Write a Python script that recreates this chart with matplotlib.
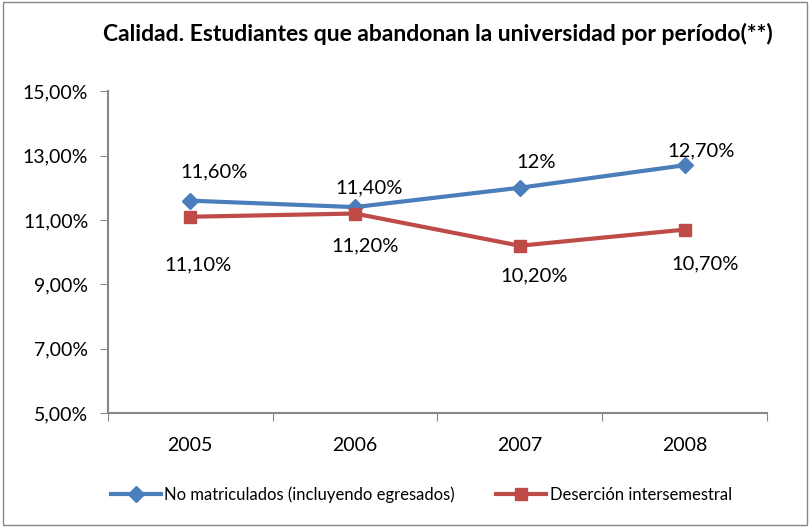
import matplotlib.pyplot as plt
from matplotlib.patches import Rectangle

plt.rcParams['font.family'] = ['Lato', 'DejaVu Sans']

# Data
years = ['2005', '2006', '2007', '2008']
no_matriculados = [11.6, 11.4, 12.0, 12.7]
desercion = [11.1, 11.2, 10.2, 10.7]
labels_nm = ['11,60%', '11,40%', '12%', '12,70%']
labels_des = ['11,10%', '11,20%', '10,20%', '10,70%']
y_ticks = [5, 7, 9, 11, 13, 15]

# label offsets in points (dx, dy)
off_nm = [(17, 21), (10, 14), (12, 18), (12, 10)]
off_des = [(6, -35), (7, -23), (10, -22), (15, -25)]

blue = '#4A7EBB'
red = '#BE4B48'
gray = '#868686'

fig = plt.figure(figsize=(8.1, 5.27), dpi=100)
ax = fig.add_axes([0.133, 0.216, 0.814, 0.611])

x = list(range(len(years)))
ax.plot(x, no_matriculados, color=blue, lw=3, marker='D', ms=8,
        label='No matriculados (incluyendo egresados)')
ax.plot(x, desercion, color=red, lw=3, marker='s', ms=9,
        label='Deserción intersemestral')

for i in x:
    ax.annotate(labels_nm[i], (i, no_matriculados[i]), xytext=off_nm[i],
                textcoords='offset points', ha='center', va='center', fontsize=14.5)
    ax.annotate(labels_des[i], (i, desercion[i]), xytext=off_des[i],
                textcoords='offset points', ha='center', va='center', fontsize=14.5)

ax.set_xlim(-0.5, 3.5)
ax.set_ylim(5, 15)
ax.set_yticks(y_ticks)
ax.set_yticklabels([f'{v:.2f}'.replace('.', ',') + '%' for v in y_ticks], fontsize=14)

# category ticks between groups, labels at centres
ax.set_xticks([-0.5, 0.5, 1.5, 2.5, 3.5])
ax.set_xticklabels([])
ax.set_xticks(x, minor=True)
ax.set_xticklabels(years, minor=True, fontsize=14)
ax.tick_params(axis='x', which='minor', length=0, pad=17)
ax.tick_params(axis='x', which='major', length=6, color=gray, direction='out')
ax.tick_params(axis='y', length=6, color=gray, pad=8)

for s in ['top', 'right']:
    ax.spines[s].set_visible(False)
for s in ['left', 'bottom']:
    ax.spines[s].set_color(gray)
    ax.spines[s].set_linewidth(1.5)

fig.text(0.54, 0.935, 'Calidad. Estudiantes que abandonan la universidad por período(**)',
         ha='center', va='center', fontsize=16.5, fontweight='bold')

fig.legend(loc='center', bbox_to_anchor=(0.52, 0.062), ncol=2, frameon=False,
           fontsize=12, handlelength=3, columnspacing=2.5, handletextpad=0.2)

fig.patches.append(Rectangle((0.004, 0.004), 0.992, 0.992, transform=fig.transFigure,
                             fill=False, edgecolor=gray, lw=1))

fig.savefig('out.png', dpi=100)
